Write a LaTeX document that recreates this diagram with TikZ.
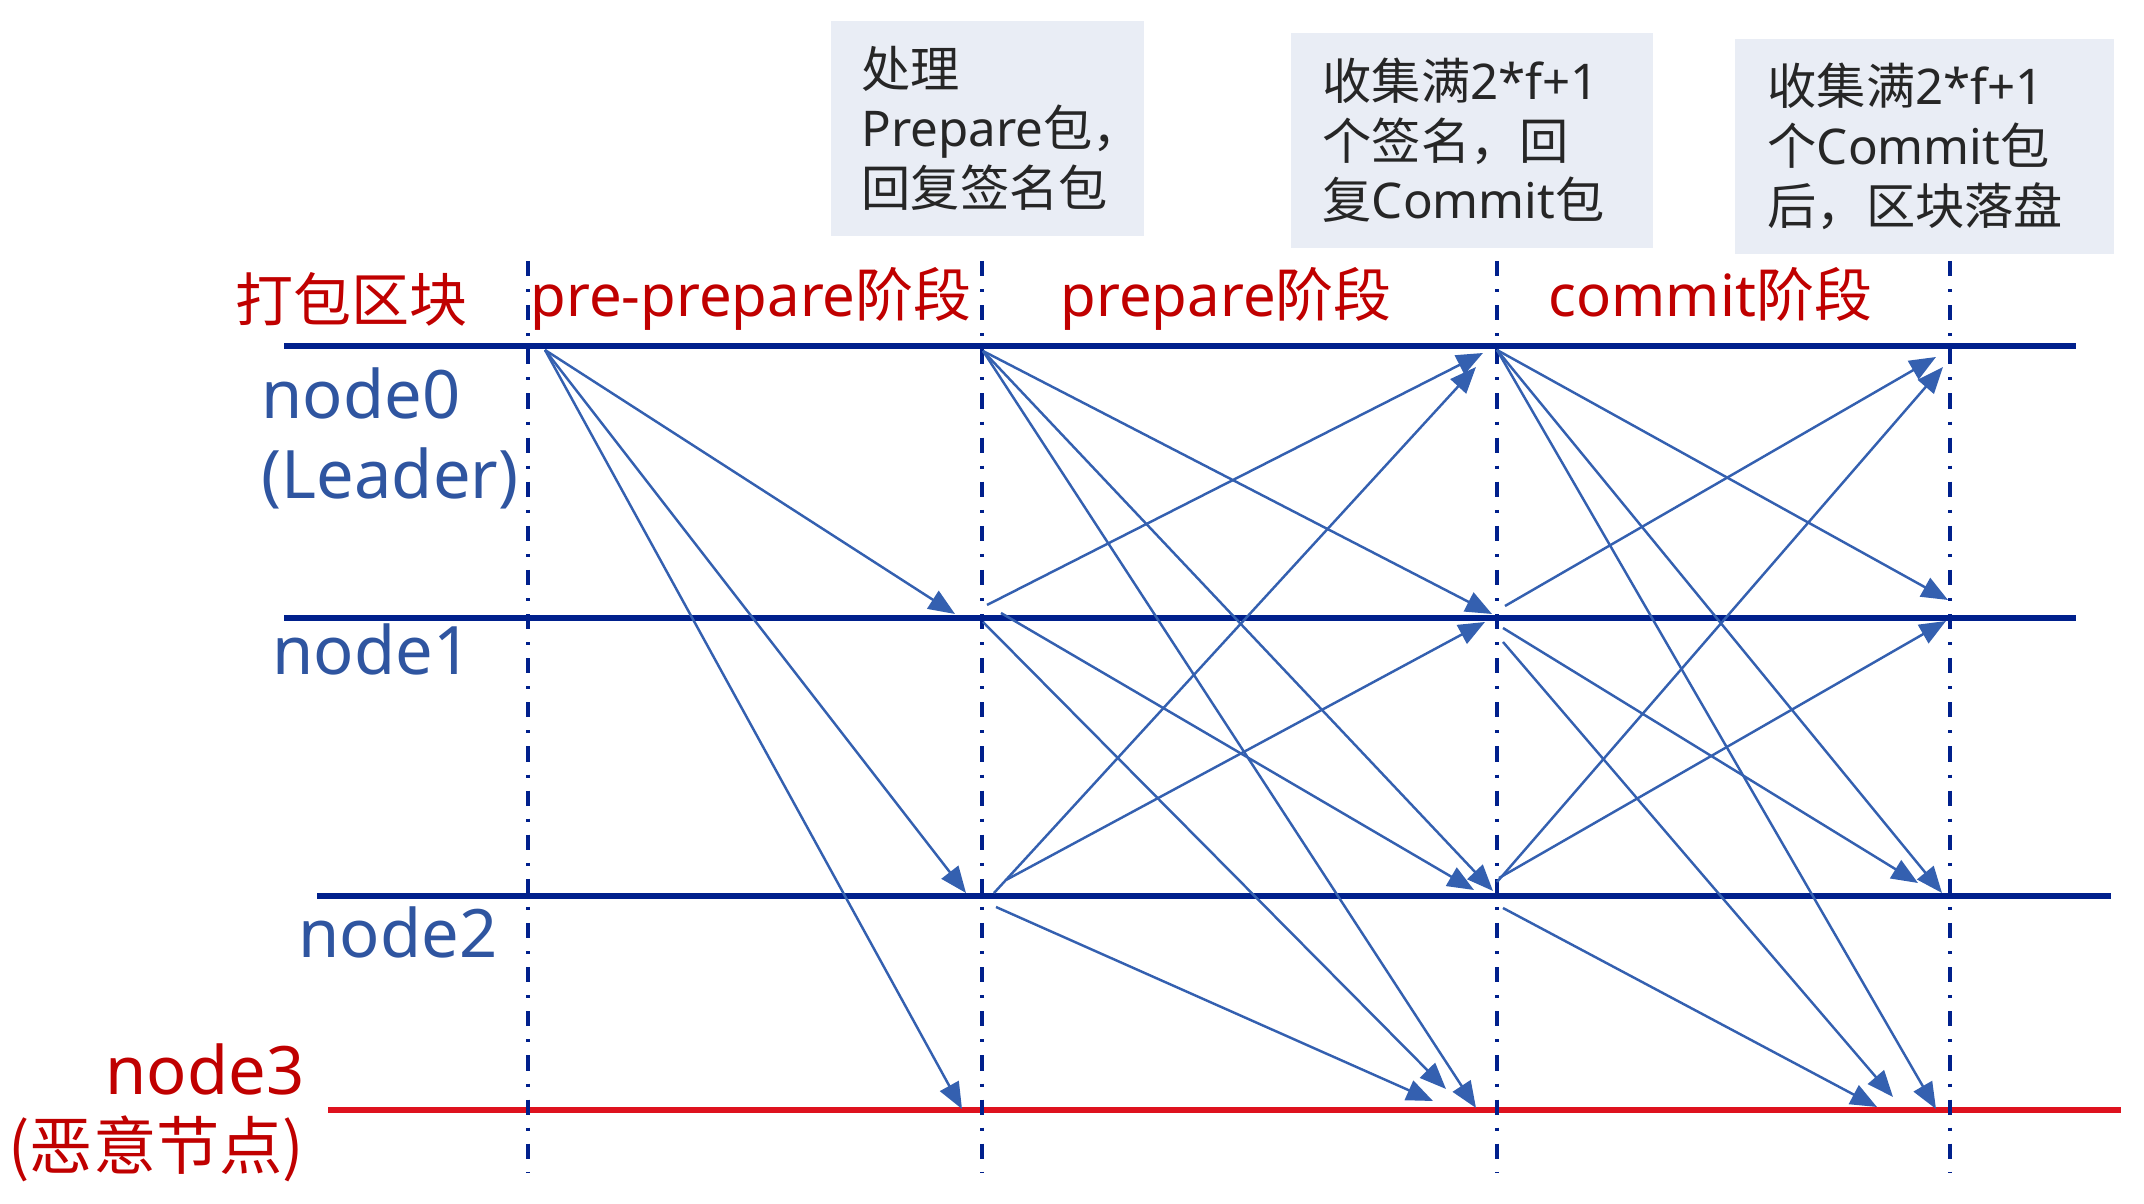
\documentclass[tikz,border=0pt]{standalone}
\usepackage{fontspec}
\setmainfont{Noto Sans}
\newfontfamily\cjk{Noto Sans CJK SC}
\usetikzlibrary{arrows.meta}

\definecolor{lanenavy}{RGB}{0,32,140}
\definecolor{lanered}{RGB}{222,18,30}
\definecolor{namecolor}{RGB}{47,85,160}
\definecolor{phasered}{RGB}{192,0,0}
\definecolor{msgblue}{RGB}{52,96,176}
\definecolor{notegray}{RGB}{233,237,245}

\tikzset{
  lane/.style={line width=1.7pt, lanenavy},
  phaseline/.style={line width=1pt, lanenavy, dash pattern=on 4.3pt off 3.7pt on 0.85pt off 3.7pt},
  msg/.style={line width=0.7pt, msgblue, -{Triangle[length=7.5pt,width=6pt]}},
  phasetxt/.style={text=phasered, font=\fontsize{16.5}{20}\selectfont, inner sep=0pt},
  nametxt/.style={text=namecolor, font=\fontsize{19}{23}\selectfont, inner sep=0pt},
  note/.style={fill=notegray, align=left, anchor=north west, text=black!85,
    font=\fontsize{14}{17}\selectfont, minimum height=2.15cm, inner ysep=0pt}
}

\begin{document}
\begin{tikzpicture}[x=0.01cm,y=-0.01cm]
    \useasboundingbox (0,0) rectangle (2144,1204);

    % notes above the phases
    \node[note, text width=2.51cm, inner xsep=0.31cm] (note1) at (830,20)
        {{\cjk 处理}\\Prepare{\cjk 包，}\\{\cjk 回复签名包}};
    \node[note, text width=2.98cm, inner xsep=0.32cm] (note2) at (1290,32)
        {{\cjk 收集满}2*f+1\\{\cjk 个签名，回}\\{\cjk 复}Commit{\cjk 包}};
    \node[note, text width=3.13cm, inner xsep=0.33cm] (note3) at (1734,38)
        {{\cjk 收集满}2*f+1\\{\cjk 个}Commit{\cjk 包}\\{\cjk 后，区块落盘}};

    % phase titles
    \node[phasetxt, anchor=base west] (pack) at (235,322) {\cjk 打包区块};
    \node[phasetxt, anchor=base west] (prepre) at (530,317) {pre-prepare{\cjk 阶段}};
    \node[phasetxt, anchor=base west] (prep) at (1060,317) {prepare{\cjk 阶段}};
    \node[phasetxt, anchor=base west] (comm) at (1548,317) {commit{\cjk 阶段}};

    % node names
    \node[nametxt, anchor=base west] (n0name) at (261,419) {node0};
    \node[nametxt, anchor=base west] (n0role) at (261,499) {(Leader)};
    \node[nametxt, anchor=base west] (n1name) at (272,675) {node1};
    \node[nametxt, anchor=base west] (n2name) at (298,958) {node2};
    \node[nametxt, text=phasered, anchor=base east] (n3name) at (305,1095) {node3};
    \node[nametxt, text=phasered, anchor=base east, font=\fontsize{18}{22}\selectfont]
        (n3role) at (305,1170) {\cjk (恶意节点)};

    % time lines of the nodes
    \draw[lane] (284,346) -- (2076,346);
    \draw[lane] (284,618) -- (2076,618);
    \draw[lane] (317,896) -- (2111,896);
    \draw[lane, lanered] (328,1110) -- (2121,1110);

    % phase borders
    \foreach \x in {528,982,1497,1950}
        \draw[phaseline] (\x,261) -- (\x,1172);

    % message end points
    \foreach \name/\x/\y in {a0/545/350, a1/955/614, a2/966/893, a3/962/1109,
        b01s/983/351, b01t/1492/614, b02s/983/351, b02t/1493/891,
        b03s/983/351, b03t/1476/1108, b10s/987/605, b10t/1483/353,
        b12s/1001/613, b12t/1474/890, b13s/983/622, b13t/1446/1089,
        b20s/994/893, b20t/1476/367, b21s/1006/880, b21t/1485/622,
        b23s/996/907, b23t/1433/1101,
        c01s/1497/350, c01t/1948/600, c02s/1497/350, c02t/1942/893,
        c03s/1497/350, c03t/1936/1109, c10s/1505/606, c10t/1936/357,
        c12s/1503/628, c12t/1918/883, c13s/1503/642, c13t/1893/1097,
        c20s/1497/882, c20t/1943/367, c21s/1499/878, c21t/1946/621,
        c23s/1503/908, c23t/1877/1107}
        \coordinate (\name) at (\x,\y);

    % pre-prepare
    \foreach \t in {a1,a2,a3}
        \draw[msg] (a0) -- (\t);
    % prepare and commit
    \foreach \m in {b01,b02,b03,b10,b12,b13,b20,b21,b23,c01,c02,c03,c10,c12,c13,c20,c21,c23}
        \draw[msg] (\m s) -- (\m t);
\end{tikzpicture}
\end{document}
